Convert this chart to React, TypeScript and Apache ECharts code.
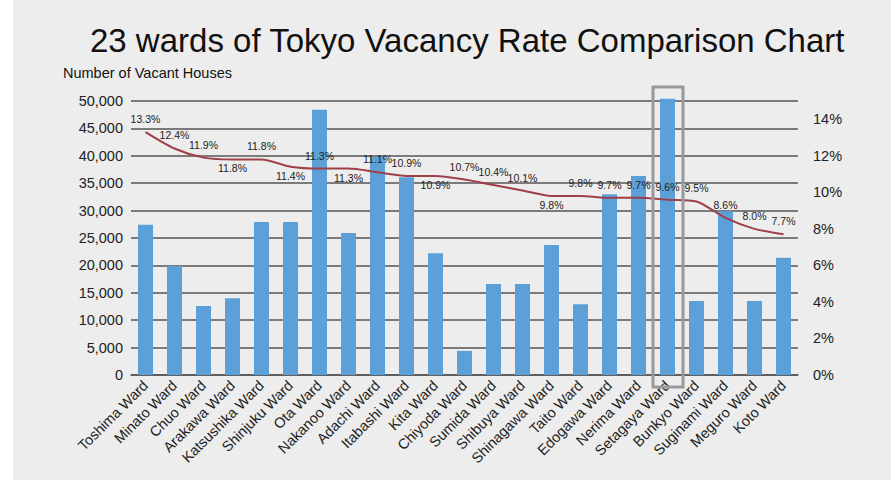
import React, { useEffect, useRef } from "react";
import * as echarts from "echarts";

const categories = [
  "Toshima Ward", "Minato Ward", "Chuo Ward", "Arakawa Ward", "Katsushika Ward",
  "Shinjuku Ward", "Ota Ward", "Nakanoo Ward", "Adachi Ward", "Itabashi Ward",
  "Kita Ward", "Chiyoda Ward", "Sumida Ward", "Shibuya Ward", "Shinagawa Ward",
  "Taito Ward", "Edogawa Ward", "Nerima Ward", "Setagaya Ward", "Bunkyo Ward",
  "Suginami Ward", "Meguro Ward", "Koto Ward",
];

const vacantHouses = [
  27400, 19900, 12600, 14000, 27900, 27900, 48400, 25900, 39800, 36100,
  22200, 4400, 16600, 16600, 23700, 12900, 33000, 36300, 50400, 13500,
  29900, 13500, 21400,
];

const vacancyRate = [
  13.3, 12.4, 11.9, 11.8, 11.8, 11.4, 11.3, 11.3, 11.1, 10.9,
  10.9, 10.7, 10.4, 10.1, 9.8, 9.8, 9.7, 9.7, 9.6, 9.5,
  8.6, 8.0, 7.7,
];

const labelBelow = [
  false, false, false, true, false, true, false, true, false, false,
  true, false, false, false, true, false, false, false, false, false,
  false, false, false,
];

const leftTicks = [0, 5000, 10000, 15000, 20000, 25000, 30000, 35000, 40000, 45000, 50000];
const rightTicks = [0, 2, 4, 6, 8, 10, 12, 14];

const highlighted = "Setagaya Ward";

const FONT = "'Liberation Sans', Arial, Helvetica, sans-serif";

export default function App() {
  const ref = useRef<HTMLDivElement | null>(null);

  useEffect(() => {
    if (!ref.current) return;
    const chart = echarts.init(ref.current, null, { renderer: "svg" });
    const gridLeft = 131;
    const gridRight = 96;
    const gridTop = 101;
    const gridBottom = 105;

    const option: any = {
      animation: false,
      backgroundColor: "transparent",
      textStyle: { fontFamily: FONT },
      title: {
        text: "23 wards of Tokyo Vacancy Rate Comparison Chart",
        left: 85,
        top: 19,
        textStyle: { fontSize: 33, fontWeight: "normal", color: "#111", fontFamily: FONT },
      },
      grid: { left: gridLeft, right: gridRight, top: gridTop, bottom: gridBottom },
      xAxis: {
        type: "category",
        data: categories,
        axisTick: { show: false },
        axisLine: { lineStyle: { color: "#555", width: 1.5 } },
        axisLabel: { rotate: 45, fontSize: 14.5, color: "#222", margin: 8, interval: 0, fontFamily: FONT },
      },
      yAxis: [
        {
          type: "value",
          min: leftTicks[0],
          max: leftTicks[leftTicks.length - 1],
          interval: leftTicks[1] - leftTicks[0],
          axisLine: { show: false },
          axisTick: { show: false },
          axisLabel: {
            fontSize: 14.5,
            color: "#222",
            margin: 8,
            fontFamily: FONT,
            formatter: (v: number) => v.toLocaleString("en-US"),
          },
          splitLine: { lineStyle: { color: "#555", width: 1.5 } },
        },
        {
          type: "value",
          min: rightTicks[0],
          max: 15,
          interval: rightTicks[1] - rightTicks[0],
          position: "right",
          axisLine: { show: false },
          axisTick: { show: false },
          splitLine: { show: false },
          axisLabel: {
            fontSize: 14.5,
            color: "#222",
            margin: 15,
            fontFamily: FONT,
            formatter: (v: number) => (rightTicks.indexOf(v) >= 0 ? `${v}%` : ""),
          },
        },
      ],
      series: [
        {
          type: "bar",
          data: vacantHouses,
          yAxisIndex: 0,
          barWidth: 15,
          clip: false,
          itemStyle: { color: "#5DA0D8" },
        },
        {
          type: "line",
          data: vacancyRate.map((v, i) => ({
            value: v,
            label: { position: labelBelow[i] ? "bottom" : "top", distance: labelBelow[i] ? 3 : 7 },
          })),
          yAxisIndex: 1,
          smooth: 0.25,
          symbol: "circle",
          symbolSize: 1,
          showSymbol: true,
          itemStyle: { color: "rgba(0,0,0,0)" },
          lineStyle: { color: "#9E3F4A", width: 2 },
          label: {
            show: true,
            fontSize: 10.5,
            color: "#222",
            fontFamily: FONT,
            formatter: (p: any) => `${Number(p.value).toFixed(1)}%`,
          },
          labelLayout: { hideOverlap: false },
          z: 5,
        },
      ],
    };
    chart.setOption(option);

    const idx = categories.indexOf(highlighted);
    const cx = chart.convertToPixel({ xAxisIndex: 0 }, idx) as number;
    const band = (894 - gridLeft - gridRight) / categories.length;
    chart.setOption({
      graphic: [
        {
          type: "rect",
          shape: { x: cx - band / 2, y: gridTop - 14, width: band + 1, height: 480 - gridBottom - gridTop + 26 },
          style: { fill: "none", stroke: "#999", lineWidth: 3 },
          z: 10,
        },
        {
          type: "text",
          x: 63,
          y: 65,
          style: { text: "Number of Vacant Houses", fontSize: 14.5, fill: "#111", fontFamily: FONT },
        },
      ],
    });

    return () => chart.dispose();
  }, []);

  return (
    <div style={{ position: "fixed", left: 0, top: 0, width: 894, height: 480, background: "#fff" }}>
      <div style={{ position: "absolute", left: 13, top: 0, width: 878, height: 480, background: "#EDEDED" }} />
      <div ref={ref} style={{ position: "absolute", left: 0, top: 0, width: 894, height: 480 }} />
    </div>
  );
}
